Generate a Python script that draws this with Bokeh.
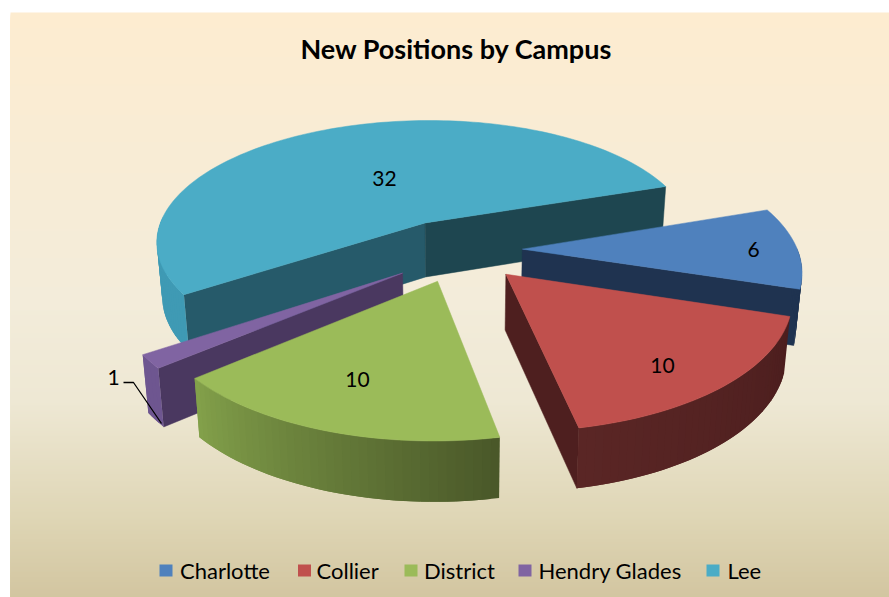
import math
from bokeh.plotting import figure
from bokeh.models import Range1d
from bokeh.core.properties import value
from bokeh.embed import file_html
from bokeh.resources import INLINE

# ---- data
campuses = ["Charlotte", "Collier", "District", "Hendry Glades", "Lee"]
positions = [6, 10, 10, 1, 32]
title_text = "New Positions by Campus"

# ---- style
top_colors = ["#4F81BD", "#C0504D", "#9BBB59", "#8064A2", "#4BACC6"]
cut_a0 = ["#1F3350", "#4E1F1F", "#4A5A2A", "#4A3860", "#265A6A"]
cut_a1 = ["#1F3350", "#4E1F1F", "#4A5A2A", "#4A3860", "#1E4650"]
rim_from = ["#1F3350", "#4C1E1E", "#4A5829", "#6E5690", "#3F9AB4"]
rim_to = ["#1F3350", "#5A2625", "#82A04A", "#6E5690", "#3F9AB4"]
explode = [0.236, 0.225, 0.225, 0.25, 0.29]
nudge_x = [-3, 3, -2, -2, -1]
nudge_y = [-4, -1, 0, 0, 1]
start_angle = 19.0
CX, CY, R, KY, PERSP, DEPTH, LEAN = 460.0, 253.0, 275.0, 0.46, 0.15, 55.0, 0.018
label_xy = [(753, 249), (662, 365), (357, 379), (113, 377), (384, 178)]
legend_swatch_x = [159, 297.5, 404, 518, 706]
legend_text_x = [179.5, 316, 423.5, 538, 727]
LEGEND_Y = 570
stops = [(12, (253, 236, 208)), (300, (243, 236, 218)), (400, (238, 232, 212)),
         (520, (222, 213, 180)), (597, (210, 197, 160))]


def hexrgb(c):
    return tuple(int(c[i:i + 2], 16) for i in (1, 3, 5))


def mix(a, b, t):
    a, b = hexrgb(a), hexrgb(b)
    return "#%02x%02x%02x" % tuple(round(a[i] + (b[i] - a[i]) * t) for i in range(3))


def proj(X, Y, z=0.0):
    s = 1 / (1 + PERSP * Y)
    x = CX + R * X * s * (1 - LEAN * z)
    return x, CY - R * KY * Y * s + z * DEPTH * s ** 0.5


W, H = 889, 597
p = figure(width=W, height=H, x_range=Range1d(0, W), y_range=Range1d(H, 0),
           toolbar_location=None, output_backend="svg", min_border=0,
           x_axis_type=None, y_axis_type=None, outline_line_color=None,
           background_fill_color="white", border_fill_color="white")
p.grid.visible = False

# background gradient
y_top, y_bot, cols = [], [], []
for (y0, c0), (y1, c1) in zip(stops, stops[1:]):
    for y in range(y0, y1, 2):
        t = (y - y0) / (y1 - y0)
        y_top.append(y)
        y_bot.append(H)
        cols.append("#%02x%02x%02x" % tuple(round(c0[i] + (c1[i] - c0[i]) * t) for i in range(3)))
p.quad(left=10, right=W, top=y_top, bottom=y_bot, fill_color=cols, line_color=None)

# slices
total = sum(positions)
angles = []
a = start_angle
for v in positions:
    angles.append((a, a - 360.0 * v / total))
    a -= 360.0 * v / total


def wall_visible(A, E, M):
    if abs(E[0] - A[0]) < 1e-6:
        return False
    yline = A[1] + (M[0] - A[0]) * (E[1] - A[1]) / (E[0] - A[0])
    return M[1] < yline


draw_order = [4, 0, 3, 2, 1]
for i in draw_order:
    a0, a1 = angles[i]
    mid = math.radians((a0 + a1) / 2)
    ox, oy = explode[i] * math.cos(mid), explode[i] * math.sin(mid)
    n = max(3, int(abs(a1 - a0) / 1.5))
    arc = [math.radians(a0 + (a1 - a0) * k / n) for k in range(n + 1)]
    pts = [(ox + math.cos(t), oy + math.sin(t)) for t in arc]

    def P(X, Y, z=0.0):
        x, y = proj(X, Y, z)
        return x + nudge_x[i], y + nudge_y[i]

    A = P(ox, oy)
    M = P(ox + math.cos(mid), oy + math.sin(mid))
    # cut faces
    xs, ys, fc = [], [], []
    for (ex, ey), col in ((pts[0], cut_a0[i]), (pts[-1], cut_a1[i])):
        if not wall_visible(A, P(ex, ey), M):
            continue
        quad = [P(ox, oy), P(ex, ey), P(ex, ey, 1), P(ox, oy, 1)]
        xs.append([q[0] for q in quad])
        ys.append([q[1] for q in quad])
        fc.append(col)
    if xs:
        p.patches(xs, ys, fill_color=fc, line_color=fc, line_width=0.5)
    # outer rim: only the part that faces the viewer; strips overlap so no seams show
    xs, ys, fc = [], [], []
    for k in range(n):
        if math.sin((arc[k] + arc[k + 1]) / 2) >= 0.02:
            continue
        (ax, ay), (bx, by) = pts[k], pts[min(k + 2, n)]
        quad = [P(ax, ay), P(bx, by), P(bx, by, 1), P(ax, ay, 1)]
        xs.append([q[0] for q in quad])
        ys.append([q[1] for q in quad])
        fc.append(mix(rim_from[i], rim_to[i], k / max(1, n - 1)))
    if xs:
        p.patches(xs, ys, fill_color=fc, line_color=None)
    # top
    top = [A] + [P(x, y) for x, y in pts]
    p.patch([q[0] for q in top], [q[1] for q in top], fill_color=top_colors[i],
            line_color=top_colors[i], line_width=0.5)

FONT = value("Lato")
# title
p.text([456], [48], text=[title_text], text_font=FONT, text_font_style="bold",
       text_font_size="27px", text_align="center", text_baseline="middle", text_color="#000000")
# data labels
p.text([q[0] for q in label_xy], [q[1] for q in label_xy], text=[str(v) for v in positions],
       text_font=FONT, text_font_size="21px", text_align="center", text_baseline="middle",
       text_color="#000000")
# leader line for the smallest slice
p.line([123, 133, 161], [382, 382, 423], line_color="#000000", line_width=1.3)
# legend
p.rect([x + 6.5 for x in legend_swatch_x], [571 - 1] * 5, width=13, height=12,
       fill_color=top_colors, line_color=None)
p.text(legend_text_x, [LEGEND_Y] * 5, text=campuses, text_font=FONT, text_font_size="22px",
       text_align="left", text_baseline="middle", text_color="#000000")

open("out.html", "w").write(file_html(p, INLINE))
